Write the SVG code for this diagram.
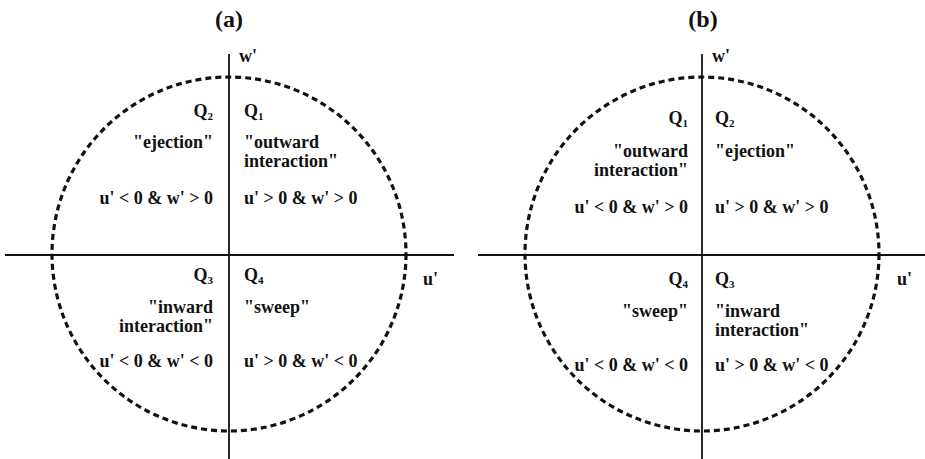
<svg xmlns="http://www.w3.org/2000/svg" width="925" height="459" viewBox="0 0 925 459">
<style>
.t{font-family:"Liberation Serif","Times New Roman",serif;font-weight:bold;font-size:18px;fill:#111}
.ti{font-family:"Liberation Serif","Times New Roman",serif;font-weight:bold;font-size:24px;fill:#111}
.r{text-anchor:end}
.sub{font-size:11px}
.ax{stroke:#111;stroke-width:1.8;fill:none}
.c{stroke:#111;stroke-width:3.2;fill:none;stroke-dasharray:6 4}
</style>
<rect width="925" height="459" fill="#fff"/>
<g id="panel-a">
  <g id="connectors-a">
    <line class="ax" x1="229" y1="54" x2="229" y2="459"/>
    <line class="ax" x1="5" y1="255" x2="454" y2="255"/>
    <circle class="c" cx="229" cy="254" r="177"/>
  </g>
  <text class="ti" x="229" y="27" text-anchor="middle">(a)</text>
  <text class="t" x="239" y="62">w'</text>
  <text class="t" x="423" y="285">u'</text>
  <g id="a-q2">
    <text class="t r" x="213" y="117">Q<tspan class="sub" dy="3">2</tspan></text>
    <text class="t r" x="213" y="148">"ejection"</text>
    <text class="t r" x="213" y="204">u' &lt; 0 &amp; w' &gt; 0</text>
  </g>
  <g id="a-q1">
    <text class="t" x="244" y="117">Q<tspan class="sub" dy="3">1</tspan></text>
    <text class="t" x="244" y="148">"outward</text>
    <text class="t" x="244" y="167">interaction"</text>
    <text class="t" x="244" y="204">u' &gt; 0 &amp; w' &gt; 0</text>
  </g>
  <g id="a-q3">
    <text class="t r" x="213" y="281">Q<tspan class="sub" dy="3">3</tspan></text>
    <text class="t r" x="213" y="313">"inward</text>
    <text class="t r" x="213" y="332">interaction"</text>
    <text class="t r" x="213" y="367">u' &lt; 0 &amp; w' &lt; 0</text>
  </g>
  <g id="a-q4">
    <text class="t" x="244" y="281">Q<tspan class="sub" dy="3">4</tspan></text>
    <text class="t" x="244" y="313">"sweep"</text>
    <text class="t" x="244" y="367">u' &gt; 0 &amp; w' &lt; 0</text>
  </g>
</g>
<g id="panel-b">
  <g id="connectors-b">
    <line class="ax" x1="702" y1="54" x2="702" y2="459"/>
    <line class="ax" x1="478" y1="255" x2="925" y2="255"/>
    <circle class="c" cx="702" cy="254" r="177"/>
  </g>
  <text class="ti" x="703" y="27" text-anchor="middle">(b)</text>
  <text class="t" x="712" y="62">w'</text>
  <text class="t" x="897" y="285">u'</text>
  <g id="b-q1">
    <text class="t r" x="688" y="124">Q<tspan class="sub" dy="3">1</tspan></text>
    <text class="t r" x="688" y="157">"outward</text>
    <text class="t r" x="688" y="176">interaction"</text>
    <text class="t r" x="688" y="213">u' &lt; 0 &amp; w' &gt; 0</text>
  </g>
  <g id="b-q2">
    <text class="t" x="715" y="124">Q<tspan class="sub" dy="3">2</tspan></text>
    <text class="t" x="715" y="157">"ejection"</text>
    <text class="t" x="715" y="213">u' &gt; 0 &amp; w' &gt; 0</text>
  </g>
  <g id="b-q4">
    <text class="t r" x="688" y="285">Q<tspan class="sub" dy="3">4</tspan></text>
    <text class="t r" x="688" y="317">"sweep"</text>
    <text class="t r" x="688" y="371">u' &lt; 0 &amp; w' &lt; 0</text>
  </g>
  <g id="b-q3">
    <text class="t" x="715" y="285">Q<tspan class="sub" dy="3">3</tspan></text>
    <text class="t" x="715" y="317">"inward</text>
    <text class="t" x="715" y="336">interaction"</text>
    <text class="t" x="715" y="371">u' &gt; 0 &amp; w' &lt; 0</text>
  </g>
</g>
</svg>
